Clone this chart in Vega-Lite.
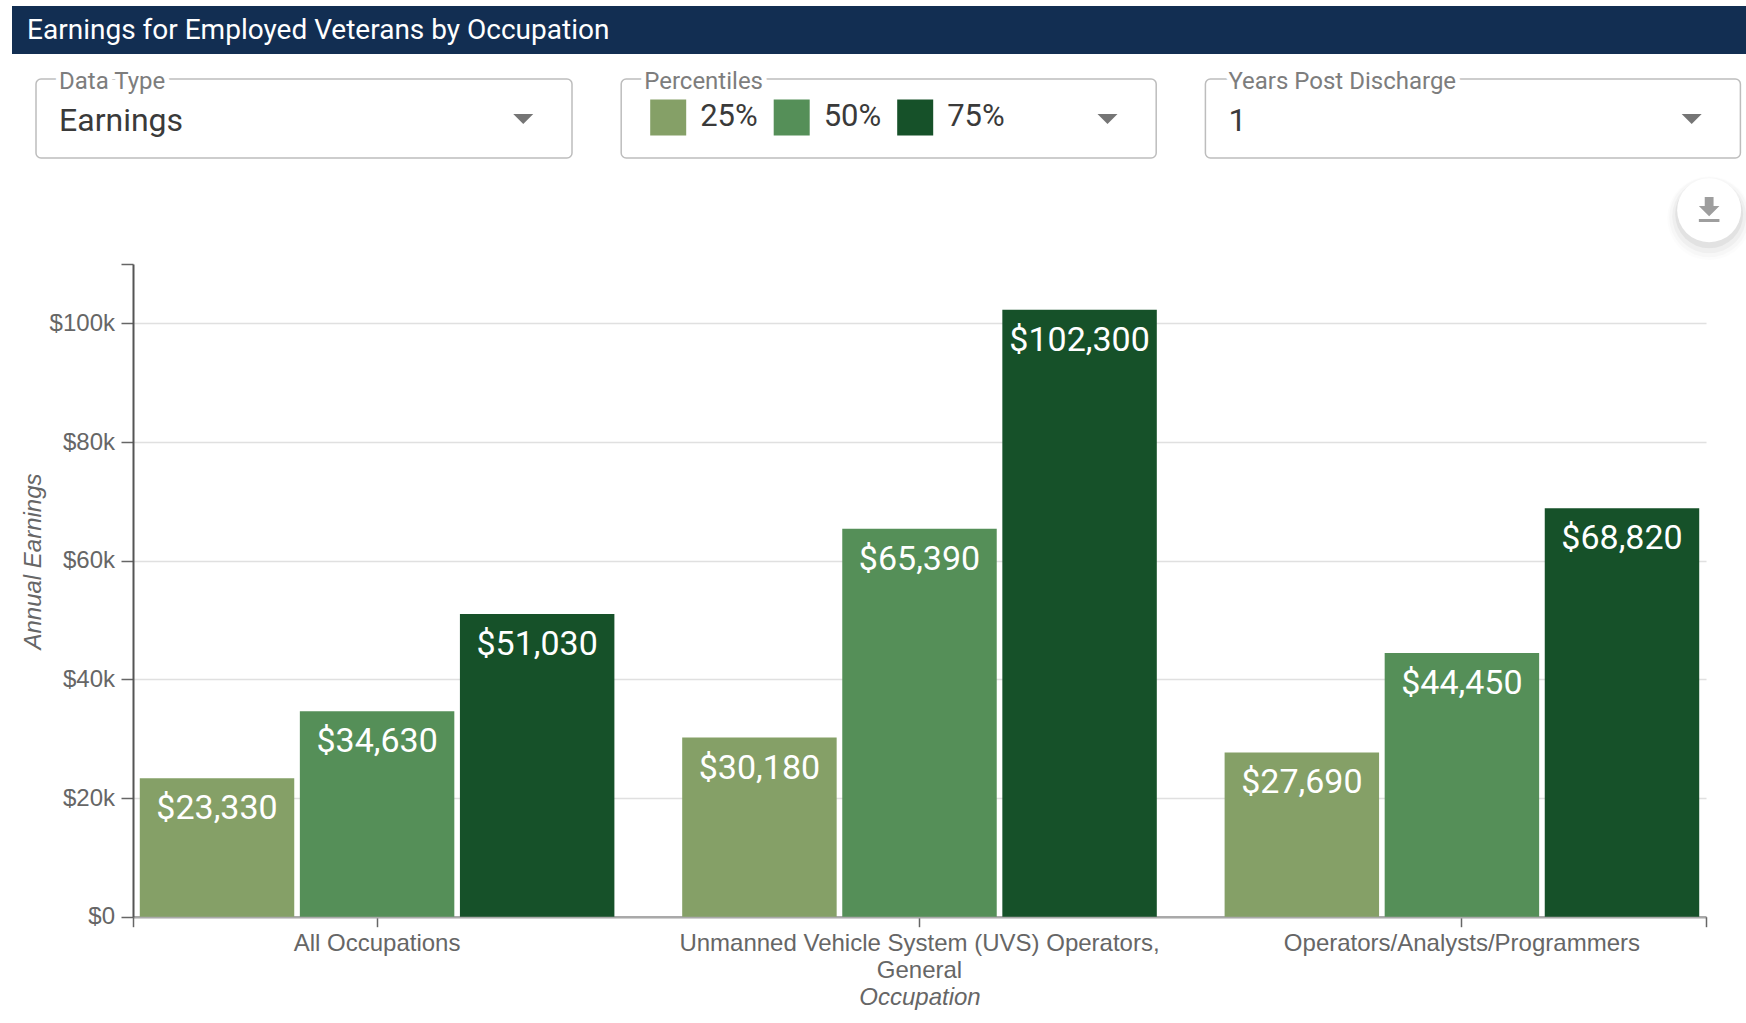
{
"$schema":"https://vega.github.io/schema/vega-lite/v6.json",
"background":"white",
"padding":{"left":12,"top":6,"right":0,"bottom":0},
"config":{"view":{"stroke":null},"text":{"font":"Roboto"},"axis":{"labelFont":"Liberation Sans","titleFont":"Liberation Sans"}},
"spacing":17,
"vconcat":[
{"spacing":15,"vconcat":[
{"width":1734,"height":48,"view":{"fill":"#122E52","stroke":null},
 "data":{"values":[{"heading":"Earnings for Employed Veterans by Occupation"}]},
 "mark":{"type":"text","align":"left","baseline":"middle","fontSize":28,"color":"white"},
 "encoding":{"text":{"field":"heading"},
  "x":{"datum":0.0087,"type":"quantitative","scale":{"domain":[0,1]},"axis":null},
  "y":{"datum":0.47,"type":"quantitative","scale":{"domain":[0,1]},"axis":null}}},
{"spacing":0,"hconcat":[
 {"width":23,"height":1,"data":{"values":[{"spacer":1}]},"mark":{"type":"point","opacity":0},"encoding":{}},
 {"spacing":47.2,"hconcat":[
  {"width":536,"height":79,"view":{"stroke":"#bdbdbd","strokeWidth":1.5,"cornerRadius":5},
   "data":{"values":[{"control":"Data Type","selected":"Earnings"}]},
   "encoding":{"x":{"datum":0.043,"type":"quantitative","scale":{"domain":[0,1]},"axis":null},"y":{"datum":0.96,"type":"quantitative","scale":{"domain":[0,1]},"axis":null}},
   "layer":[
    {"mark":{"type":"text","align":"left","baseline":"middle","fontSize":24,"stroke":"white","strokeWidth":10,"color":"white"},"encoding":{"text":{"field":"control"}}},
    {"mark":{"type":"text","align":"left","baseline":"middle","fontSize":24,"color":"#7d7d7d"},"encoding":{"text":{"field":"control"}}},
    {"mark":{"type":"text","align":"left","baseline":"middle","fontSize":32,"color":"#3a3a3a"},"encoding":{"text":{"field":"selected"},"y":{"datum":0.465,"type":"quantitative"}}},
    {"mark":{"type":"point","filled":true,"opacity":1,"color":"#757575","size":400,"shape":"M-1,-0.5L1,-0.5L0,0.5Z"},"encoding":{"x":{"datum":0.909,"type":"quantitative"},"y":{"datum":0.495,"type":"quantitative"}}}
   ]},
  {"width":535,"height":79,"view":{"stroke":"#bdbdbd","strokeWidth":1.5,"cornerRadius":5},
   "resolve":{"scale":{"x":"independent"}},
   "layer":[
    {"data":{"values":[{"control":"Percentiles"}]},"mark":{"type":"text","align":"left","baseline":"middle","fontSize":24,"stroke":"white","strokeWidth":10,"color":"white"},"encoding":{"text":{"field":"control"},"x":{"datum":0.043,"type":"quantitative","scale":{"domain":[0,1]},"axis":null},"y":{"datum":0.96,"type":"quantitative","scale":{"domain":[0,1]},"axis":null}}},
    {"data":{"values":[{"control":"Percentiles"}]},"mark":{"type":"text","align":"left","baseline":"middle","fontSize":24,"color":"#7d7d7d"},"encoding":{"text":{"field":"control"},"x":{"datum":0.043,"type":"quantitative","scale":{"domain":[0,1]},"axis":null},"y":{"datum":0.96,"type":"quantitative"}}},
    {"data":{"values":[{"percentile":"25%"},{"percentile":"50%"},{"percentile":"75%"}]},"mark":{"type":"point","filled":true,"opacity":1,"shape":"square","size":1296},
     "encoding":{"x":{"field":"percentile","type":"ordinal","scale":{"type":"point","range":[47,294],"padding":0},"axis":null},"y":{"datum":0.513,"type":"quantitative"},
      "color":{"field":"percentile","type":"nominal","scale":{"range":["#85A067","#558F58","#165129"]},"legend":null}}},
    {"data":{"values":[{"percentile":"25%"},{"percentile":"50%"},{"percentile":"75%"}]},"mark":{"type":"text","align":"left","baseline":"middle","fontSize":31,"dx":32,"color":"#3a3a3a"},
     "encoding":{"text":{"field":"percentile"},"x":{"field":"percentile","type":"ordinal","scale":{"type":"point","range":[47,294],"padding":0},"axis":null},"y":{"datum":0.515,"type":"quantitative"}}},
    {"data":{"values":[{"control":"Percentiles"}]},"mark":{"type":"point","filled":true,"opacity":1,"color":"#757575","size":400,"shape":"M-1,-0.5L1,-0.5L0,0.5Z"},"encoding":{"x":{"datum":0.909,"type":"quantitative","scale":{"domain":[0,1]},"axis":null},"y":{"datum":0.495,"type":"quantitative"}}}
   ]},
  {"width":535,"height":79,"view":{"stroke":"#bdbdbd","strokeWidth":1.5,"cornerRadius":5},
   "data":{"values":[{"control":"Years Post Discharge","selected":"1"}]},
   "encoding":{"x":{"datum":0.043,"type":"quantitative","scale":{"domain":[0,1]},"axis":null},"y":{"datum":0.96,"type":"quantitative","scale":{"domain":[0,1]},"axis":null}},
   "layer":[
    {"mark":{"type":"text","align":"left","baseline":"middle","fontSize":24,"stroke":"white","strokeWidth":10,"color":"white"},"encoding":{"text":{"field":"control"}}},
    {"mark":{"type":"text","align":"left","baseline":"middle","fontSize":24,"color":"#7d7d7d"},"encoding":{"text":{"field":"control"}}},
    {"mark":{"type":"text","align":"left","baseline":"middle","fontSize":32,"color":"#3a3a3a"},"encoding":{"text":{"field":"selected"},"y":{"datum":0.465,"type":"quantitative"}}},
    {"mark":{"type":"point","filled":true,"opacity":1,"color":"#757575","size":400,"shape":"M-1,-0.5L1,-0.5L0,0.5Z"},"encoding":{"x":{"datum":0.909,"type":"quantitative"},"y":{"datum":0.495,"type":"quantitative"}}}
   ]}
 ]}
]}
]},
{"spacing":0,"hconcat":[
 {"width":9,"height":1,"data":{"values":[{"spacer":1}]},"mark":{"type":"point","opacity":0},"encoding":{}},
 {"width":1573,"height":652.7,
  "data":{"values":[
   {"occupation":"All Occupations","percentile":"25%","earnings":23330},
   {"occupation":"All Occupations","percentile":"50%","earnings":34630},
   {"occupation":"All Occupations","percentile":"75%","earnings":51030},
   {"occupation":"Unmanned Vehicle System (UVS) Operators, General","percentile":"25%","earnings":30180},
   {"occupation":"Unmanned Vehicle System (UVS) Operators, General","percentile":"50%","earnings":65390},
   {"occupation":"Unmanned Vehicle System (UVS) Operators, General","percentile":"75%","earnings":102300},
   {"occupation":"Operators/Analysts/Programmers","percentile":"25%","earnings":27690},
   {"occupation":"Operators/Analysts/Programmers","percentile":"50%","earnings":44450},
   {"occupation":"Operators/Analysts/Programmers","percentile":"75%","earnings":68820}
  ]},
  "resolve":{"scale":{"x":"independent","xOffset":"independent"},"axis":{"x":"independent"}},
  "layer":[
   {"mark":{"type":"bar"},
    "encoding":{
     "x":{"field":"occupation","type":"nominal","sort":null,"scale":{"paddingInner":0.125,"paddingOuter":0.0125},
      "axis":{"title":"Occupation","titleFont":"Liberation Sans","titleFontSize":24,"titleFontStyle":"italic","titleFontWeight":"normal","titleColor":"#666","titlePadding":2.5,
       "labelAngle":0,"labelFontSize":24,"labelColor":"#666","labelLimit":900,"labelLineHeight":27,"labelPadding":5,
       "labelExpr":"indexof(datum.label,'Unmanned')==0?['Unmanned Vehicle System (UVS) Operators,','General']:datum.label",
       "tickColor":"#666","tickWidth":1.5,"tickSize":10,"domainColor":"#a9a9a9","domainWidth":2.5,"grid":false}},
     "xOffset":{"field":"percentile","type":"nominal","scale":{"paddingInner":0.035,"paddingOuter":0}},
     "y":{"field":"earnings","type":"quantitative","scale":{"domain":[0,110000],"nice":false},
      "axis":{"title":"Annual Earnings","titleFontSize":24,"titleFontStyle":"italic","titleFontWeight":"normal","titleColor":"#666","titleX":-88,"titleY":297,
       "values":[0,20000,40000,60000,80000,100000,110000],
       "labelExpr":"datum.value==110000?'':datum.value==0?'$0':'$'+datum.value/1000+'k'",
       "labelFontSize":24,"labelColor":"#666","labelPadding":6.5,"tickColor":"#666","tickWidth":1.5,"tickSize":12,"domainColor":"#555","domainWidth":2,
       "grid":true,"gridColor":"#e0e0e0","gridWidth":1.5,"gridOpacity":{"condition":{"test":"datum.value==110000","value":0},"value":1}}},
     "color":{"field":"percentile","type":"nominal","scale":{"range":["#85A067","#558F58","#165129"]},"legend":null}}},
   {"mark":{"type":"text","color":"white","fontSize":34,"baseline":"middle","dy":31},
    "encoding":{
     "x":{"field":"occupation","type":"nominal","sort":null,"scale":{"type":"band","paddingInner":0.125,"paddingOuter":0.0125},"axis":null},
     "xOffset":{"field":"percentile","type":"nominal","scale":{"type":"band","paddingInner":0.035,"paddingOuter":0}},
     "y":{"field":"earnings","type":"quantitative"},
     "text":{"field":"earnings","type":"quantitative","format":"$,.0f"}}},
   {"data":{"values":[{"mark":"axis end"}]},
    "mark":{"type":"point","opacity":0},
    "encoding":{"x":{"datum":0,"type":"quantitative","scale":{"domain":[0,1],"nice":false},
      "axis":{"orient":"bottom","values":[0,1],"labels":false,"domain":false,"title":null,"grid":false,"tickColor":"#666","tickWidth":1.5,"tickSize":10}},"y":{"datum":0,"type":"quantitative"}}},
   {"data":{"values":[{"control":"Download"}]},
    "encoding":{"x":{"datum":1.002,"type":"quantitative","scale":{"domain":[0,1],"nice":false},"axis":null},"y":{"datum":119050,"type":"quantitative"}},
    "layer":[
     {"mark":{"type":"point","filled":true,"color":"black","opacity":0.012,"size":7056,"yOffset":8}},
     {"mark":{"type":"point","filled":true,"color":"black","opacity":0.02,"size":6400,"yOffset":7}},
     {"mark":{"type":"point","filled":true,"color":"black","opacity":0.03,"size":5476,"yOffset":6}},
     {"mark":{"type":"point","filled":true,"color":"black","opacity":0.05,"size":4624,"yOffset":4}},
     {"mark":{"type":"point","filled":true,"color":"white","opacity":1,"size":4096}},
     {"mark":{"type":"point","filled":true,"color":"#9e9e9e","opacity":1,"size":8.65,"shape":"M7,-3h-4v-6h-6v6h-4l7,7l7,-7zM-7,6v2h14v-2h-14z"}}
    ]}
  ]}
]}
]
}
